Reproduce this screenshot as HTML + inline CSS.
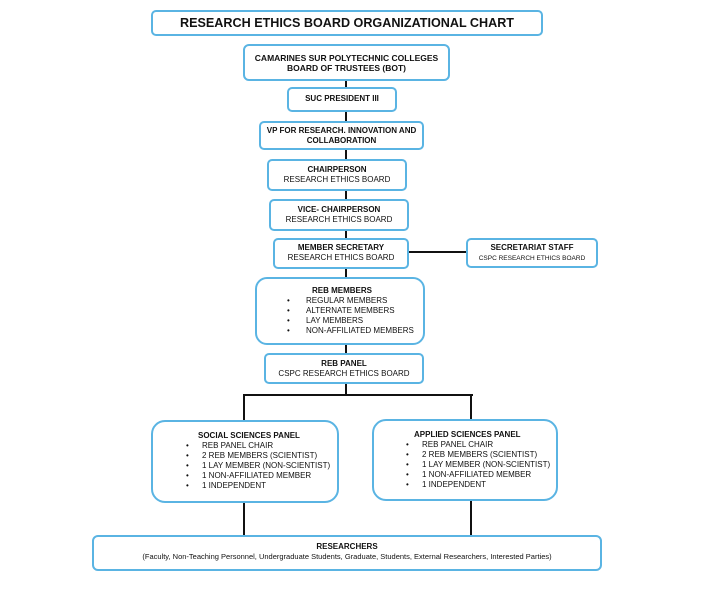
<!DOCTYPE html>
<html><head><meta charset="utf-8"><style>
body{margin:0;width:710px;height:589px;background:#fff;position:relative;overflow:hidden;font-family:"Liberation Sans",Arial,sans-serif;color:#111}
.b{position:absolute;box-sizing:border-box;border:2px solid #5ab4e3;border-radius:5px;background:#fff}
.l{position:absolute;background:#111}
.t{position:absolute;font-size:8px;line-height:10px;white-space:nowrap}
.c{text-align:center}
.bold{font-weight:bold}
</style></head><body>
<div class="l" style="left:345px;top:78px;width:2px;height:317px"></div>
<div class="l" style="left:408px;top:251px;width:58px;height:2px"></div>
<div class="l" style="left:243px;top:394px;width:230px;height:2px"></div>
<div class="l" style="left:243px;top:394px;width:2px;height:27px"></div>
<div class="l" style="left:470px;top:394px;width:2px;height:26px"></div>
<div class="l" style="left:243px;top:502px;width:2px;height:34px"></div>
<div class="l" style="left:470px;top:500px;width:2px;height:36px"></div>

<div class="b" style="left:151px;top:10px;width:392px;height:26px"></div>
<div class="t c bold" style="left:151px;top:16px;width:392px;font-size:12.6px;line-height:15px">RESEARCH ETHICS BOARD ORGANIZATIONAL CHART</div>

<div class="b" style="left:243px;top:44px;width:207px;height:37px;border-radius:6px"></div>
<div class="t c bold" style="left:243px;top:53px;width:207px;font-size:8.5px">CAMARINES SUR POLYTECHNIC COLLEGES<br>BOARD OF TRUSTEES (BOT)</div>

<div class="b" style="left:287px;top:87px;width:110px;height:25px"></div>
<div class="t c bold" style="left:287px;top:94px;width:110px">SUC PRESIDENT III</div>

<div class="b" style="left:259px;top:121px;width:165px;height:29px"></div>
<div class="t c bold" style="left:259px;top:126px;width:165px">VP FOR RESEARCH. INNOVATION AND<br>COLLABORATION</div>

<div class="b" style="left:267px;top:159px;width:140px;height:32px"></div>
<div class="t c" style="left:267px;top:165px;width:140px"><b>CHAIRPERSON</b><br>RESEARCH ETHICS BOARD</div>

<div class="b" style="left:269px;top:199px;width:140px;height:32px"></div>
<div class="t c" style="left:269px;top:205px;width:140px"><b>VICE- CHAIRPERSON</b><br>RESEARCH ETHICS BOARD</div>

<div class="b" style="left:273px;top:238px;width:136px;height:31px"></div>
<div class="t c" style="left:273px;top:243px;width:136px"><b>MEMBER SECRETARY</b><br>RESEARCH ETHICS BOARD</div>

<div class="b" style="left:466px;top:238px;width:132px;height:30px"></div>
<div class="t c" style="left:466px;top:243px;width:132px"><b>SECRETARIAT STAFF</b><br><span style="font-size:6.5px">CSPC RESEARCH ETHICS BOARD</span></div>

<div class="b" style="left:255px;top:277px;width:170px;height:68px;border-radius:12px"></div>
<div class="t bold" style="left:312px;top:286px">REB MEMBERS</div>
<div class="t" style="left:287px;top:296px">•<br>•<br>•<br>•</div>
<div class="t" style="left:306px;top:296px">REGULAR MEMBERS<br>ALTERNATE MEMBERS<br>LAY MEMBERS<br>NON-AFFILIATED MEMBERS</div>

<div class="b" style="left:264px;top:353px;width:160px;height:31px"></div>
<div class="t c" style="left:264px;top:359px;width:160px"><b>REB PANEL</b><br>CSPC RESEARCH ETHICS BOARD</div>

<div class="b" style="left:151px;top:420px;width:188px;height:83px;border-radius:14px"></div>
<div class="t bold" style="left:198px;top:431px">SOCIAL SCIENCES PANEL</div>
<div class="t" style="left:186px;top:441px">•<br>•<br>•<br>•<br>•</div>
<div class="t" style="left:202px;top:441px">REB PANEL CHAIR<br>2 REB MEMBERS (SCIENTIST)<br>1 LAY MEMBER (NON-SCIENTIST)<br>1 NON-AFFILIATED MEMBER<br>1 INDEPENDENT</div>

<div class="b" style="left:372px;top:419px;width:186px;height:82px;border-radius:14px"></div>
<div class="t bold" style="left:414px;top:430px">APPLIED SCIENCES PANEL</div>
<div class="t" style="left:406px;top:440px">•<br>•<br>•<br>•<br>•</div>
<div class="t" style="left:422px;top:440px">REB PANEL CHAIR<br>2 REB MEMBERS (SCIENTIST)<br>1 LAY MEMBER (NON-SCIENTIST)<br>1 NON-AFFILIATED MEMBER<br>1 INDEPENDENT</div>

<div class="b" style="left:92px;top:535px;width:510px;height:36px;border-radius:6px"></div>
<div class="t c" style="left:92px;top:542px;width:510px"><b>RESEARCHERS</b><br><span style="font-size:7.5px">(Faculty, Non-Teaching Personnel, Undergraduate Students, Graduate, Students, External Researchers, Interested Parties)</span></div>
</body></html>
